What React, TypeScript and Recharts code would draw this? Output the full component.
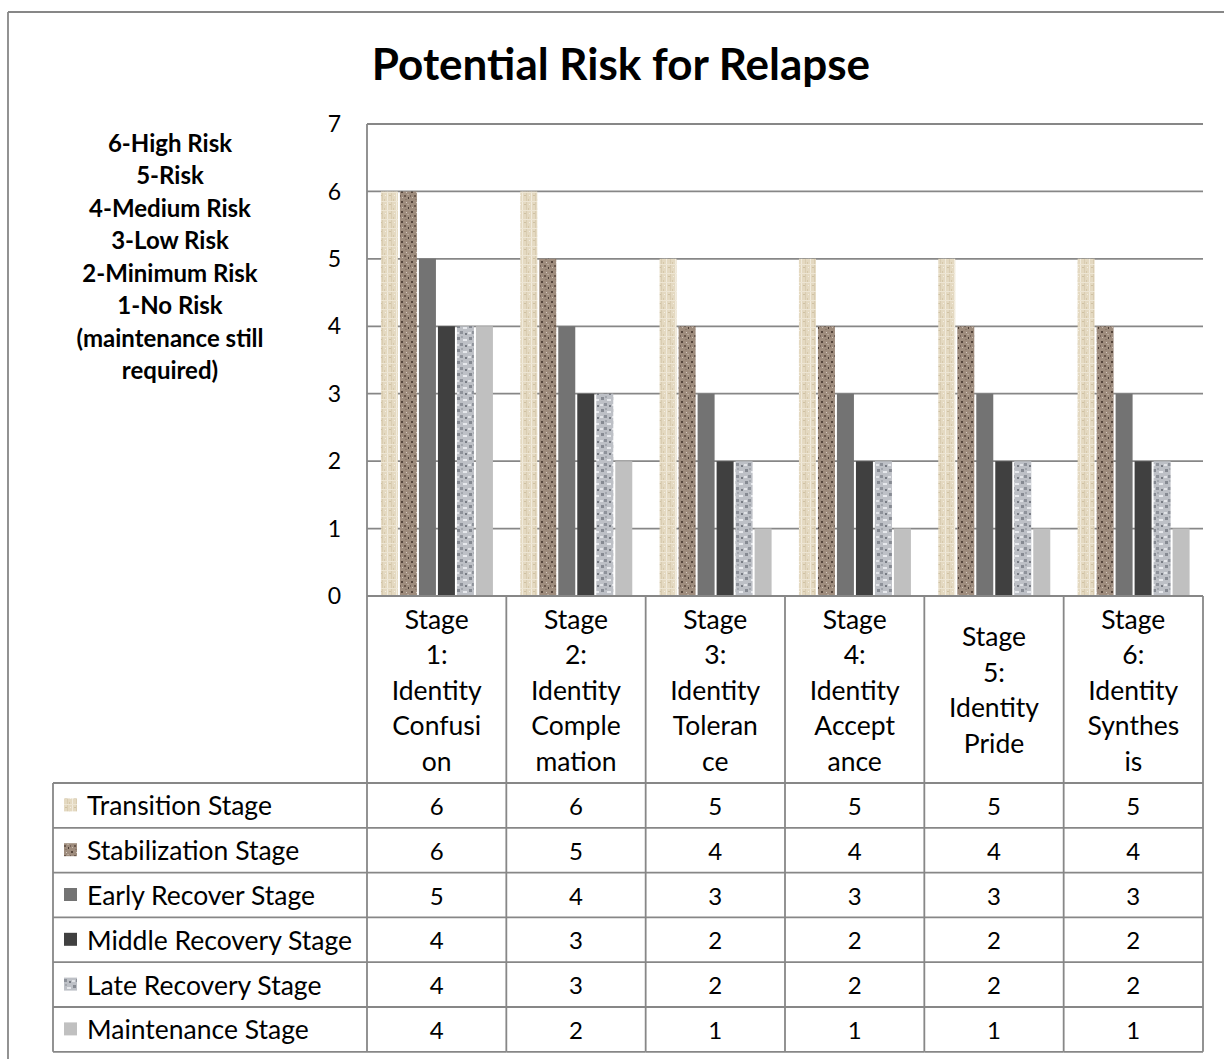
import React from "react";
import { BarChart, Bar, XAxis, YAxis, CartesianGrid } from "recharts";

const categories = [
  "Stage 1: Identity Confusion",
  "Stage 2: Identity Complemation",
  "Stage 3: Identity Tolerance",
  "Stage 4: Identity Acceptance",
  "Stage 5: Identity Pride",
  "Stage 6: Identity Synthesis",
];
const categoryLines = [
  ["Stage", "1:", "Identity", "Confusi", "on"],
  ["Stage", "2:", "Identity", "Comple", "mation"],
  ["Stage", "3:", "Identity", "Toleran", "ce"],
  ["Stage", "4:", "Identity", "Accept", "ance"],
  ["Stage", "5:", "Identity", "Pride"],
  ["Stage", "6:", "Identity", "Synthes", "is"],
];
const seriesNames = [
  "Transition Stage",
  "Stabilization Stage",
  "Early Recover Stage",
  "Middle Recovery Stage",
  "Late Recovery Stage",
  "Maintenance Stage",
];
const transition = [6, 6, 5, 5, 5, 5];
const stabilization = [6, 5, 4, 4, 4, 4];
const earlyRecover = [5, 4, 3, 3, 3, 3];
const middleRecovery = [4, 3, 2, 2, 2, 2];
const lateRecovery = [4, 3, 2, 2, 2, 2];
const maintenance = [4, 2, 1, 1, 1, 1];
const yTicks = [0, 1, 2, 3, 4, 5, 6, 7];
const riskLines = [
  "6-High Risk",
  "5-Risk",
  "4-Medium Risk",
  "3-Low Risk",
  "2-Minimum Risk",
  "1-No Risk",
  "(maintenance still",
  "required)",
];
const title = "Potential Risk for Relapse";

const seriesValues = [transition, stabilization, earlyRecover, middleRecovery, lateRecovery, maintenance];
const seriesKeys = ["transition", "stabilization", "earlyRecover", "middleRecovery", "lateRecovery", "maintenance"];
const seriesFills = [
  "url(#patTransition)",
  "url(#patStab)",
  "#737373",
  "#404040",
  "url(#patLate)",
  "#c0c0c0",
];

const data = categories.map((c, i) => {
  const row: any = { name: c };
  seriesKeys.forEach((k, s) => {
    row[k] = seriesValues[s][i];
  });
  return row;
});

const FONT = "Lato, 'Open Sans', sans-serif";
const GRID = "#878787";
const W = 1224;
const H = 1059;
const PLOT_LEFT = 367;
const PLOT_RIGHT = 1203;
const PLOT_TOP = 124;
const PLOT_BOTTOM = 596;
const BAND = (PLOT_RIGHT - PLOT_LEFT) / categories.length;
const HEADER_BOTTOM = 783;
const ROW_H = 44.8;
const TABLE_LEFT = 53;

const CategoryTick = (props: any) => {
  const { x, y, payload } = props;
  const i = payload.index;
  const lines = categoryLines[i];
  const half = BAND / 2;
  const center = (y + HEADER_BOTTOM) / 2;
  const lh = 35.5;
  const start = center - ((lines.length - 1) * lh) / 2;
  const elems: any[] = [];
  lines.forEach((t, k) => {
    elems.push(
      <text key={"l" + k} x={x} y={start + k * lh} textAnchor="middle" dominantBaseline="central"
        fontFamily={FONT} fontSize={26.5} fill="#000">{t}</text>
    );
  });
  elems.push(<line key="vr" x1={x + half} x2={x + half} y1={y} y2={HEADER_BOTTOM + ROW_H * 6} stroke={GRID} strokeWidth={1.8} />);
  if (i === 0) {
    elems.push(<line key="vl" x1={x - half} x2={x - half} y1={y} y2={HEADER_BOTTOM + ROW_H * 6} stroke={GRID} strokeWidth={1.8} />);
  }
  for (let r = 0; r <= 6; r++) {
    const yy = HEADER_BOTTOM + r * ROW_H;
    elems.push(<line key={"h" + r} x1={x - half} x2={x + half} y1={yy} y2={yy} stroke={GRID} strokeWidth={1.8} />);
  }
  seriesValues.forEach((vals, s) => {
    elems.push(
      <text key={"v" + s} x={x} y={HEADER_BOTTOM + (s + 0.5) * ROW_H} textAnchor="middle" dominantBaseline="central"
        fontFamily={FONT} fontSize={24} fill="#000">{vals[i]}</text>
    );
  });
  return <g>{elems}</g>;
};

export default function App() {
  return (
    <div style={{ position: "fixed", left: 0, top: 0, width: W, height: H, overflow: "hidden", background: "#fff" }}>
      <svg width={0} height={0} style={{ position: "absolute" }}>
        <defs>
          <pattern id="patTransition" patternUnits="userSpaceOnUse" width={9} height={9}>
            <rect width={9} height={9} fill="#e4d9c1" />
            <rect x={0} y={0} width={1} height={9} fill="#f1ebdd" />
            <rect x={4} y={0} width={1} height={9} fill="#d9ccb1" />
            <rect x={0} y={3} width={9} height={1} fill="#ede5d3" />
            <rect x={2} y={6} width={2} height={1} fill="#cfc1a3" />
            <rect x={6} y={1} width={1} height={2} fill="#d6c8aa" />
            <rect x={7} y={6} width={1} height={1} fill="#f4eee2" />
          </pattern>
          <pattern id="patStab" patternUnits="userSpaceOnUse" width={10} height={10}>
            <rect width={10} height={10} fill="#9e8c7d" />
            <rect x={1} y={1} width={2} height={2} fill="#56463c" />
            <rect x={6} y={2} width={1} height={1} fill="#d6cbc0" />
            <rect x={4} y={5} width={2} height={2} fill="#6a584c" />
            <rect x={8} y={7} width={1} height={2} fill="#4a3c34" />
            <rect x={2} y={7} width={1} height={1} fill="#cbbfb2" />
            <rect x={7} y={4} width={2} height={1} fill="#b8a99a" />
            <rect x={0} y={5} width={1} height={2} fill="#75635a" />
            <rect x={5} y={9} width={2} height={1} fill="#8a786a" />
          </pattern>
          <pattern id="patLate" patternUnits="userSpaceOnUse" width={12} height={12}>
            <rect width={12} height={12} fill="#bdc0c6" />
            <rect x={1} y={1} width={3} height={3} fill="#868a92" />
            <rect x={7} y={3} width={4} height={2} fill="#e6e8ec" />
            <rect x={4} y={7} width={3} height={3} fill="#8e929a" />
            <rect x={9} y={9} width={2} height={2} fill="#777b83" />
            <rect x={0} y={8} width={3} height={2} fill="#e0e2e6" />
            <rect x={5} y={0} width={2} height={2} fill="#a3a7ae" />
          </pattern>
        </defs>
      </svg>

      <div style={{ position: "absolute", left: 0, top: 0 }}>
        <BarChart
          width={W}
          height={H}
          data={data}
          margin={{ top: PLOT_TOP, right: W - PLOT_RIGHT, left: 0, bottom: H - HEADER_BOTTOM - ROW_H * 6 - 1 }}
          barCategoryGap="10%"
          barGap={2}
        >
          <CartesianGrid vertical={false} stroke={GRID} strokeWidth={1.8} />
          <XAxis
            dataKey="name"
            height={HEADER_BOTTOM + ROW_H * 6 + 1 - PLOT_BOTTOM}
            axisLine={{ stroke: GRID, strokeWidth: 1.8 }}
            tickLine={false}
            tickSize={0}
            tickMargin={0}
            interval={0}
            tick={<CategoryTick />}
          />
          <YAxis
            width={PLOT_LEFT}
            domain={[0, 7]}
            ticks={yTicks}
            interval={0}
            axisLine={{ stroke: GRID, strokeWidth: 1.8 }}
            tickLine={false}
            tickSize={6}
            tickMargin={20}
            tick={{ fontFamily: FONT, fontSize: 23, fill: "#000" }}
          />
          {seriesKeys.map((k, s) => (
            <Bar key={k} dataKey={k} name={seriesNames[s]} fill={seriesFills[s]} isAnimationActive={false} />
          ))}
        </BarChart>
      </div>

      <svg width={W} height={H} style={{ position: "absolute", left: 0, top: 0, pointerEvents: "none" }}>
        <line x1={8} x2={W} y1={12} y2={12} stroke={GRID} strokeWidth={1.8} />
        <line x1={8} x2={8} y1={12} y2={H} stroke={GRID} strokeWidth={1.8} />
        <text x={621} y={63} textAnchor="middle" dominantBaseline="central" fontFamily={FONT} fontWeight="bold" fontSize={44} fill="#000">
          {title}
        </text>
        {riskLines.map((t, k) => (
          <text key={k} x={170} y={142 + k * 32.5} textAnchor="middle" dominantBaseline="central" fontFamily={FONT}
            fontWeight="bold" fontSize={24} fill="#000">{t}</text>
        ))}
        <line x1={TABLE_LEFT} x2={PLOT_LEFT} y1={HEADER_BOTTOM} y2={HEADER_BOTTOM} stroke={GRID} strokeWidth={1.8} />
        <line x1={TABLE_LEFT} x2={TABLE_LEFT} y1={HEADER_BOTTOM} y2={HEADER_BOTTOM + ROW_H * 6} stroke={GRID} strokeWidth={1.8} />
        {seriesNames.map((n, s) => {
          const cy = HEADER_BOTTOM + (s + 0.5) * ROW_H;
          return (
            <g key={n}>
              <line x1={TABLE_LEFT} x2={PLOT_LEFT} y1={HEADER_BOTTOM + (s + 1) * ROW_H} y2={HEADER_BOTTOM + (s + 1) * ROW_H} stroke={GRID} strokeWidth={1.8} />
              <rect x={64} y={cy - 7} width={13} height={13} fill={seriesFills[s]} />
              <text x={87} y={cy} dominantBaseline="central" fontFamily={FONT} fontSize={26.5} fill="#000">{n}</text>
            </g>
          );
        })}
      </svg>
    </div>
  );
}
